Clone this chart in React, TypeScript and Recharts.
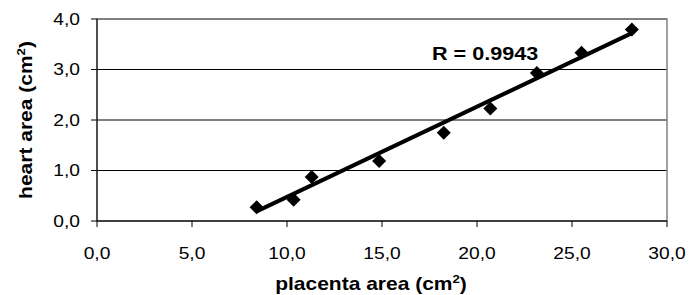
import React from "react";
import {
  ScatterChart,
  Scatter,
  XAxis,
  YAxis,
  CartesianGrid,
  ReferenceArea,
  Customized,
} from "recharts";

// placenta area (cm2) vs heart area (cm2)
const placentaArea = [8.4, 10.35, 11.3, 14.85, 18.25, 20.7, 23.15, 25.5, 28.15];
const heartArea = [0.27, 0.42, 0.87, 1.19, 1.75, 2.23, 2.93, 3.33, 3.79];

// linear trend line end points
const trendX = [8.4, 28.15];
const trendY = [0.19, 3.72];

const xTicks = [0, 5, 10, 15, 20, 25, 30];
const yTicks = [0, 1, 2, 3, 4];
const rLabel = "R = 0.9943";

const points = placentaArea.map((x, i) => ({ x, y: heartArea[i] }));
const trend = trendX.map((x, i) => ({ x, y: trendY[i] }));

const FONT = "'Liberation Sans', Arial, sans-serif";
const STRETCH = 1.2;

const fmt = (v: number) => v.toFixed(1).replace(".", ",");

function Diamond(props: any) {
  const { cx, cy } = props;
  const r = 7;
  return (
    <polygon
      points={`${cx},${cy - r} ${cx + r},${cy} ${cx},${cy + r} ${cx - r},${cy}`}
      fill="#000"
    />
  );
}

function XTick(props: any) {
  const { x, y, payload } = props;
  return (
    <g transform={`translate(${x},${y + 30}) scale(${STRETCH},1)`}>
      <text textAnchor="middle" fontFamily={FONT} fontSize={16} fill="#000">
        {fmt(payload.value)}
      </text>
    </g>
  );
}

function YTick(props: any) {
  const { x, y, payload } = props;
  return (
    <g transform={`translate(${x},${y}) scale(${STRETCH},1)`}>
      <text textAnchor="end" dy="0.36em" fontFamily={FONT} fontSize={16} fill="#000">
        {fmt(payload.value)}
      </text>
    </g>
  );
}

function Titles() {
  return (
    <g fontFamily={FONT} fontWeight="bold" fill="#000">
      <g transform={`translate(371,290) scale(${STRETCH},1)`}>
        <text textAnchor="middle" fontSize={17.5}>
          placenta area (cm
          <tspan fontSize={11} dy={-7}>2</tspan>
          <tspan dy={7}>)</tspan>
        </text>
      </g>
      <g transform={`translate(32,120) rotate(-90) scale(${STRETCH},1)`}>
        <text textAnchor="middle" fontSize={17.5}>
          heart area (cm
          <tspan fontSize={11} dy={-7}>2</tspan>
          <tspan dy={7}>)</tspan>
        </text>
      </g>
      <g transform={`translate(432,60) scale(${STRETCH},1)`}>
        <text textAnchor="start" fontSize={18}>
          {rLabel}
        </text>
      </g>
    </g>
  );
}

export default function App() {
  return (
    <div style={{ position: "absolute", left: 0, top: 0, background: "#fff" }}>
      <ScatterChart
        width={694}
        height={295}
        margin={{ top: 19, right: 27, bottom: 0, left: 0 }}
      >
        <CartesianGrid vertical={false} stroke="#000" strokeOpacity={1} />
        <ReferenceArea
          x1={0}
          x2={30}
          y1={0}
          y2={4}
          fill="none"
          stroke="#808080"
          strokeWidth={1.5}
          ifOverflow="visible"
        />
        <XAxis
          type="number"
          dataKey="x"
          domain={[0, 30]}
          ticks={xTicks}
          height={74}
          tickSize={6}
          tickMargin={2}
          tick={<XTick />}
          axisLine={{ stroke: "#000" }}
          tickLine={{ stroke: "#000" }}
          allowDataOverflow
        />
        <YAxis
          type="number"
          dataKey="y"
          domain={[0, 4]}
          ticks={yTicks}
          width={97}
          tickSize={6}
          tickMargin={11}
          tick={<YTick />}
          axisLine={{ stroke: "#000" }}
          tickLine={{ stroke: "#000" }}
          allowDataOverflow
        />
        <Scatter data={points} shape={<Diamond />} isAnimationActive={false} />
        <Scatter
          data={trend}
          line={{ stroke: "#000", strokeWidth: 4 }}
          shape={() => null}
          isAnimationActive={false}
        />
        <Customized component={<Titles />} />
      </ScatterChart>
    </div>
  );
}
